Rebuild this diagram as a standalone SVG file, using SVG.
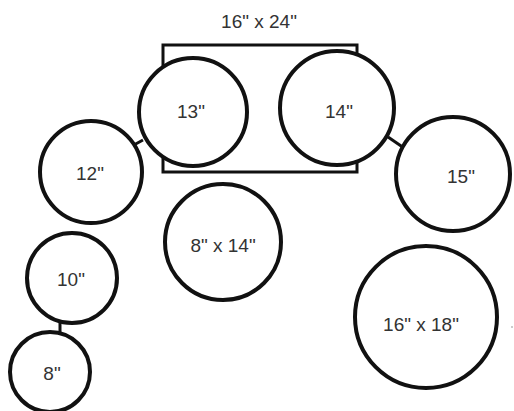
<svg xmlns="http://www.w3.org/2000/svg" width="514" height="411" viewBox="0 0 514 411">
<style>
.tbl{fill:#fff;stroke:#111;stroke-width:4}
.rect{fill:none;stroke:#111;stroke-width:3}
.lbl{font-family:"Liberation Sans",Arial,sans-serif;font-size:19px;fill:#333;text-anchor:middle}
.con{stroke:#111;stroke-width:3;fill:none}
</style>
<rect width="514" height="411" fill="#fff"/>
<g id="table-16x24">
<rect class="rect" x="163" y="45" width="194" height="127"/>
<text class="lbl" x="259" y="28">16" x 24"</text>
</g>
<g id="connectors">
<line class="con" x1="132" y1="146" x2="143" y2="140"/>
<line class="con" x1="388" y1="137" x2="404" y2="148"/>
<line class="con" x1="60" y1="320" x2="60" y2="336"/>
</g>
<g id="table-13"><circle class="tbl" cx="193" cy="112" r="54"/><text class="lbl" x="191" y="118">13"</text></g>
<g id="table-14"><circle class="tbl" cx="337" cy="108" r="57"/><text class="lbl" x="339" y="118">14"</text></g>
<g id="table-12"><circle class="tbl" cx="91" cy="172" r="51"/><text class="lbl" x="90" y="180">12"</text></g>
<g id="table-10"><circle class="tbl" cx="72" cy="278" r="45"/><text class="lbl" x="71" y="286">10"</text></g>
<g id="table-8"><circle class="tbl" cx="50" cy="372" r="40"/><text class="lbl" x="52" y="380">8"</text></g>
<g id="table-8x14"><circle class="tbl" cx="223" cy="242" r="58"/><text class="lbl" x="223" y="252">8" x 14"</text></g>
<g id="table-15"><circle class="tbl" cx="453" cy="174" r="57"/><text class="lbl" x="461" y="183">15"</text></g>
<g id="table-16x18"><circle class="tbl" cx="426" cy="317" r="71"/><text class="lbl" x="421" y="331">16" x 18"</text></g>
<circle cx="512" cy="327" r="1" fill="#bbb"/>
</svg>
